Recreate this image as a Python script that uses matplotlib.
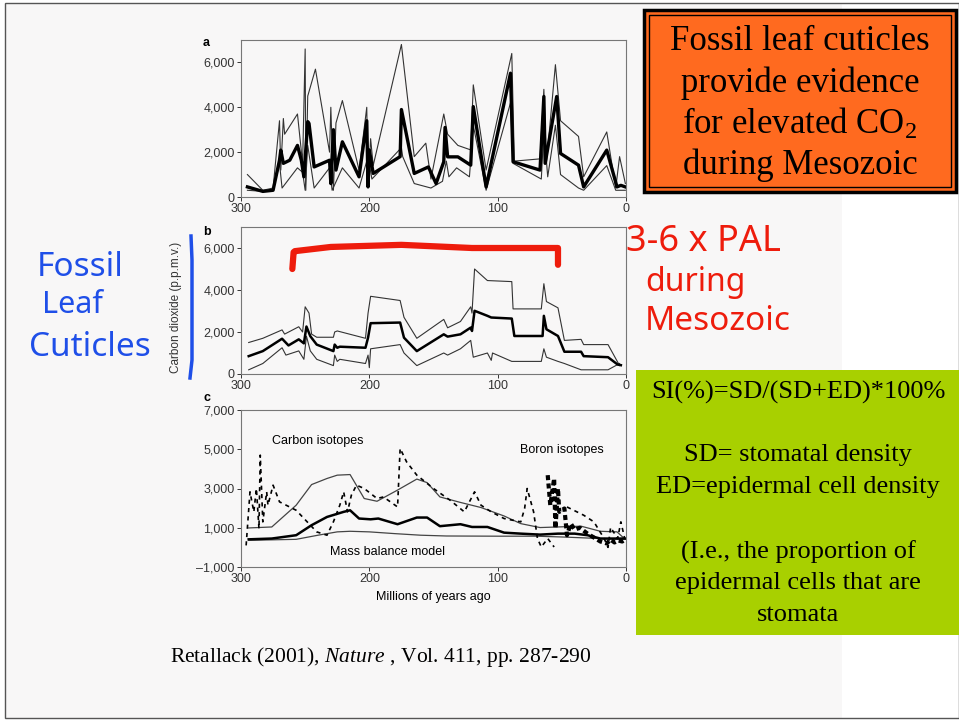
import matplotlib
matplotlib.use('Agg')
import matplotlib.pyplot as plt
from matplotlib.patches import Rectangle
from matplotlib.ticker import FuncFormatter

# ---- data (millions of years ago, p.p.m.v.) ----
# panel a: stomatal index estimates, mean and upper/lower bounds
a_mid_x = [295, 283, 275, 270, 269, 267, 262, 256, 253, 251, 248, 247, 243, 231, 230, 228, 226, 221,
           208, 202, 201, 200, 197, 176, 175, 165, 154, 148, 142, 141, 139, 131, 121, 119, 109, 90,
           88, 67, 64, 63, 54, 51, 37, 33, 15, 7, 4, 0.5]
a_mid_y = [450, 250, 300, 1640, 2090, 1500, 1640, 2300, 1640, 900, 3360, 3280, 1340, 1640, 600, 3000, 1200, 2460,
           900, 3400, 450, 2100, 1050, 1800, 3900, 1050, 1340, 600, 1570, 3100, 1790, 1790, 1420, 4030, 450, 5520,
           1570, 1200, 4480, 1500, 4480, 1940, 1420, 450, 2090, 450, 520, 450]

a_hi_x = [295, 283, 275, 270, 269, 267, 266, 256, 252, 250, 249.5, 248, 242, 231, 230, 228, 226, 221,
          208, 202, 201, 199, 197, 175, 165, 156, 152, 142, 139, 131, 121, 119, 109, 89, 87, 67, 64,
          62, 55, 51, 37, 33, 15, 8, 5, 0.5]
a_hi_y = [1000, 300, 400, 3400, 1200, 3500, 2800, 3700, 1500, 6600, 300, 4500, 5700, 2000, 4000, 300, 3300, 4300,
          1200, 4000, 500, 2600, 1400, 6800, 1800, 2400, 800, 3700, 2800, 2300, 2100, 5000, 1200, 6400, 1600, 1700, 4800,
          1500, 5900, 3400, 2700, 900, 2900, 400, 1800, 600]

a_lo_x = [295, 283, 275, 270, 268, 256, 252, 250, 248, 243, 231, 229, 221, 208, 201, 198, 175, 174,
          165, 152, 143, 140, 138, 132, 122, 119, 109, 90, 88, 66, 64, 61, 55, 51, 37, 33, 15, 8, 0.5]
a_lo_y = [300, 250, 300, 1500, 400, 1300, 1100, 300, 2300, 400, 1300, 300, 1300, 400, 1800, 800, 2200, 1800,
          600, 400, 700, 1600, 900, 1300, 900, 3200, 300, 4200, 1500, 800, 3000, 900, 3200, 1000, 400, 300, 1400, 300, 300]

# panel b: smoothed carbon dioxide
b_mid_x = [294, 283, 268, 263, 255, 251, 249, 246, 241, 228, 227, 225, 223, 203, 201, 199, 176, 173, 163,
           142, 139, 129, 121, 120, 118, 108, 105, 89, 87, 65, 64, 62, 53, 48, 35, 33, 14, 6.5, 4]
b_mid_y = [850, 1090, 1680, 1360, 1650, 1460, 2260, 1800, 1400, 1090, 1400, 1250, 1300, 1250, 1730, 2420, 2450, 1730, 1090,
           1890, 1780, 1890, 2210, 2050, 3010, 2770, 2690, 2640, 1810, 1810, 2770, 2130, 1810, 1060, 1060, 850, 800, 450, 420]

b_hi_x = [294, 283, 268, 266, 255, 252, 250, 247, 245, 241, 228, 227, 225, 203, 201, 199, 176, 173, 163,
          142, 139, 129, 121, 120, 118, 108, 89, 88, 66, 64, 62, 53, 48, 35, 33, 14, 5]
b_hi_y = [1500, 1700, 2100, 1900, 2250, 2000, 3200, 2900, 1900, 1750, 1750, 2000, 2050, 1700, 2900, 3700, 3500, 2700, 1700,
          2600, 2200, 2500, 3200, 2900, 5000, 4450, 4400, 3100, 3100, 4300, 3450, 3150, 1600, 1650, 1400, 1400, 400]

b_lo_x = [294, 283, 268, 265, 255, 251, 249, 246, 241, 228, 227, 225, 223, 203, 201, 200, 199, 176, 173, 163,
          142, 139, 129, 121, 119, 108, 105, 104, 89, 66, 64, 62, 53, 48, 35, 14, 5]
b_lo_y = [200, 500, 1250, 900, 1100, 700, 1800, 1100, 700, 400, 900, 600, 700, 500, 900, 300, 1200, 1400, 1000, 400,
          1000, 900, 1200, 1600, 800, 1000, 650, 1000, 600, 600, 1200, 800, 600, 500, 200, 200, 500]

# panel c: carbon isotopes, boron isotopes, mass balance model
c_up_x = [294, 276, 257, 245, 233, 225, 215, 204, 194, 178, 163, 155, 145, 129, 113, 95, 82, 67, 53, 35, 20, 7, 1.3]
c_up_y = [990, 1040, 2150, 3200, 3510, 3680, 3710, 2490, 2350, 2920, 3480, 3300, 2570, 2290, 2030, 1600, 1210, 1010,
          1040, 1080, 820, 790, 450]

c_mid_x = [294, 276, 257, 245, 233, 220, 215, 208, 199, 193, 178, 163, 155, 145, 129, 120, 108, 95, 82, 67, 53, 40,
           30, 20, 0]
c_mid_y = [410, 450, 620, 1130, 1550, 1810, 1890, 1470, 1430, 1470, 1180, 1520, 1520, 1080, 1180, 1040, 1040, 750,
           700, 650, 700, 700, 620, 450, 450]

c_mass_x = [294, 257, 240, 225, 215, 200, 180, 160, 140, 100, 70, 50, 20, 0]
c_mass_y = [360, 410, 620, 790, 820, 790, 700, 620, 580, 570, 570, 530, 450, 410]

c_iso_x = [296, 293, 290, 288, 286, 285, 283, 280, 279, 275, 270, 257, 241, 233, 228, 223, 220, 217, 214, 210,
           204, 194, 189, 178, 176, 171, 163, 150, 137, 126, 118, 113, 105, 95, 82, 79, 77, 72, 69, 66, 61, 56]
c_iso_y = [100, 2830, 1810, 3000, 960, 4700, 1300, 2830, 2150, 3170, 2320, 1890, 790, 620, 1300, 2150, 2830, 1810,
           2660, 3170, 3000, 2490, 2570, 2060, 5040, 4360, 3680, 3000, 2400, 1810, 2830, 2150, 1810, 1470, 1300,
           1980, 3000, 1810, 450, 20, 450, 20]

c_boron_x = [61, 59, 56, 55, 53, 52, 48, 46, 43, 40, 36, 30, 25, 20, 15, 12, 9, 6, 3, 1]
c_boron_y = [3680, 2150, 3510, 960, 3000, 1810, 1980, 620, 1210, 900, 1000, 700, 500, 300, 200, 400, 250, 350, 300, 380]

c_bdash_x = [46, 33, 25, 17, 14, 12, 6.5, 4, 1]
c_bdash_y = [2060, 1640, 1300, 450, 0, 1020, 450, 1300, 450]

xticks = [300, 200, 100, 0]

plt.rcParams['font.family'] = ['Liberation Sans', 'DejaVu Sans']
plt.rcParams['mathtext.fontset'] = 'custom'
plt.rcParams['mathtext.rm'] = 'Liberation Serif'
plt.rcParams['mathtext.it'] = 'Liberation Serif:italic'
fig = plt.figure(figsize=(9.59, 7.21), dpi=100)
fig.patch.set_facecolor('white')

W, H = 959.0, 721.0


def fx(px):
    return px / W


def fy(py):
    return 1 - py / H


# scanned page background and slide frame
fig.patches.append(Rectangle((fx(5), fy(718)), fx(842) - fx(5), fy(4) - fy(718), transform=fig.transFigure,
                             facecolor='#f8f7f7', edgecolor='none', zorder=-2))
fig.patches.append(Rectangle((fx(5), fy(718)), fx(954), fy(3) - fy(718), transform=fig.transFigure,
                             facecolor='none', edgecolor='#555555', lw=1.0, zorder=-1))

fmt = FuncFormatter(lambda v, p: '{:,.0f}'.format(v).replace('-', '\u2013'))


def make_axes(top, bottom, ylo, yhi, yticks, label, label_y):
    ax = fig.add_axes([fx(241), fy(bottom), fx(626) - fx(241), fy(top) - fy(bottom)])
    ax.set_facecolor('none')
    ax.set_xlim(300, 0)
    ax.set_ylim(ylo, yhi)
    ax.set_xticks(xticks)
    ax.set_yticks(yticks)
    ax.yaxis.set_major_formatter(fmt)
    ax.tick_params(labelsize=9, length=3, width=0.7, colors='#333333', pad=1.5)
    for s in ax.spines.values():
        s.set_color('#777777')
        s.set_linewidth(0.8)
    fig.text(fx(203), fy(label_y), label, fontsize=9, fontweight='bold', va='center', ha='left')
    return ax


ax1 = make_axes(40, 197, 0, 7000, [0, 2000, 4000, 6000], 'a', 43)
ax1.plot(a_hi_x, a_hi_y, color='#333333', lw=0.8)
ax1.plot(a_lo_x, a_lo_y, color='#333333', lw=0.8)
ax1.plot(a_mid_x, a_mid_y, color='black', lw=2.4)

ax2 = make_axes(227, 374, 0, 7000, [0, 2000, 4000, 6000], 'b', 232)
ax2.plot(b_hi_x, b_hi_y, color='#333333', lw=0.8)
ax2.plot(b_lo_x, b_lo_y, color='#333333', lw=0.8)
ax2.plot(b_mid_x, b_mid_y, color='black', lw=1.8)
ax2.set_ylabel('Carbon dioxide (p.p.m.v.)', fontsize=8.5, color='#333333')
ax2.yaxis.set_label_coords(-0.153, 0.45)
# red hand-drawn bracket
ax2.plot([260, 259, 258, 230, 175, 120, 53, 53], [5000, 5800, 5850, 6050, 6150, 6000, 6000, 5200],
         color='#ee1c0c', lw=4.5, solid_capstyle='round', solid_joinstyle='round')

ax3 = make_axes(410, 567, -1000, 7000, [-1000, 1000, 3000, 5000, 7000], 'c', 398)
ax3.plot(c_up_x, c_up_y, color='#444444', lw=0.9)
ax3.plot(c_mass_x, c_mass_y, color='#444444', lw=0.9)
ax3.plot(c_mid_x, c_mid_y, color='black', lw=1.8)
ax3.plot(c_iso_x, c_iso_y, color='black', lw=1.2, ls=(0, (2.5, 2.5)))
ax3.plot(c_bdash_x, c_bdash_y, color='black', lw=1.2, ls=(0, (2.5, 2.5)))
ax3.plot(c_boron_x, c_boron_y, color='black', lw=3.0, ls=(0, (1.2, 0.8)))
ax3.text(240, 5400, 'Carbon isotopes', fontsize=9, ha='center', va='center')
ax3.text(50, 4950, 'Boron isotopes', fontsize=9, ha='center', va='center')
ax3.text(186, -230, 'Mass balance model', fontsize=9, ha='center', va='center')
ax3.set_xlabel('Millions of years ago', fontsize=9, labelpad=4)

# blue handwritten bracket and note
fig.lines.append(plt.Line2D([fx(191), fx(192), fx(192), fx(190)], [fy(236), fy(260), fy(360), fy(378)],
                            transform=fig.transFigure, color='#1f4fe8', lw=2.5))
hand = ['Noto Sans', 'DejaVu Sans']
fig.text(fx(80), fy(267), 'Fossil', fontsize=24, color='#1f4fe8', ha='center', va='center', family=hand)
fig.text(fx(72), fy(305), 'Leaf', fontsize=22, color='#1f4fe8', ha='center', va='center', family=hand)
fig.text(fx(90), fy(348), 'Cuticles', fontsize=24, color='#1f4fe8', ha='center', va='center', family=hand)

# red handwritten note
fig.text(fx(626), fy(242), '3-6 x PAL', fontsize=26, color='#ee1c0c', ha='left', va='center', family=hand)
fig.text(fx(645), fy(282), 'during', fontsize=23, color='#ee1c0c', ha='left', va='center', family=hand)
fig.text(fx(645), fy(322), 'Mesozoic', fontsize=24, color='#ee1c0c', ha='left', va='center', family=hand)

serif = ['Liberation Serif', 'DejaVu Serif']

# orange title box with double border
fig.patches.append(Rectangle((fx(644), fy(192)), fx(956) - fx(644), fy(10) - fy(192), transform=fig.transFigure,
                             facecolor='#ff6a1f', edgecolor='black', lw=2.5, zorder=2))
fig.patches.append(Rectangle((fx(649), fy(187)), fx(951) - fx(649), fy(15) - fy(187), transform=fig.transFigure,
                             facecolor='none', edgecolor='black', lw=1.0, zorder=3))
title_lines = ['Fossil leaf cuticles', 'provide evidence', 'for elevated CO$_2$', 'during Mesozoic']
for i, t in enumerate(title_lines):
    fig.text(fx(800), fy(42 + 41 * i), t, fontsize=25, ha='center', va='center', family=serif, zorder=4)

# green definition box
fig.patches.append(Rectangle((fx(636), fy(635)), fx(959) - fx(636), fy(370) - fy(635), transform=fig.transFigure,
                             facecolor='#a8d000', edgecolor='none', zorder=2))
green_lines = [(392, 'SI(%)=SD/(SD+ED)*100%'), (455, 'SD= stomatal density'), (487, 'ED=epidermal cell density'),
               (552, '(I.e., the proportion of'), (583, 'epidermal cells that are'), (615, 'stomata')]
for yy, t in green_lines:
    fig.text(fx(798), fy(yy), t, fontsize=19, ha='center', va='center', family=serif, zorder=4)

# citation
fig.text(fx(381), fy(657), 'Retallack (2001), $\\it{Nature}$ , Vol. 411, pp. 287-290', fontsize=15.5,
         ha='center', va='center', family=serif)

fig.savefig('out.png', dpi=100)
